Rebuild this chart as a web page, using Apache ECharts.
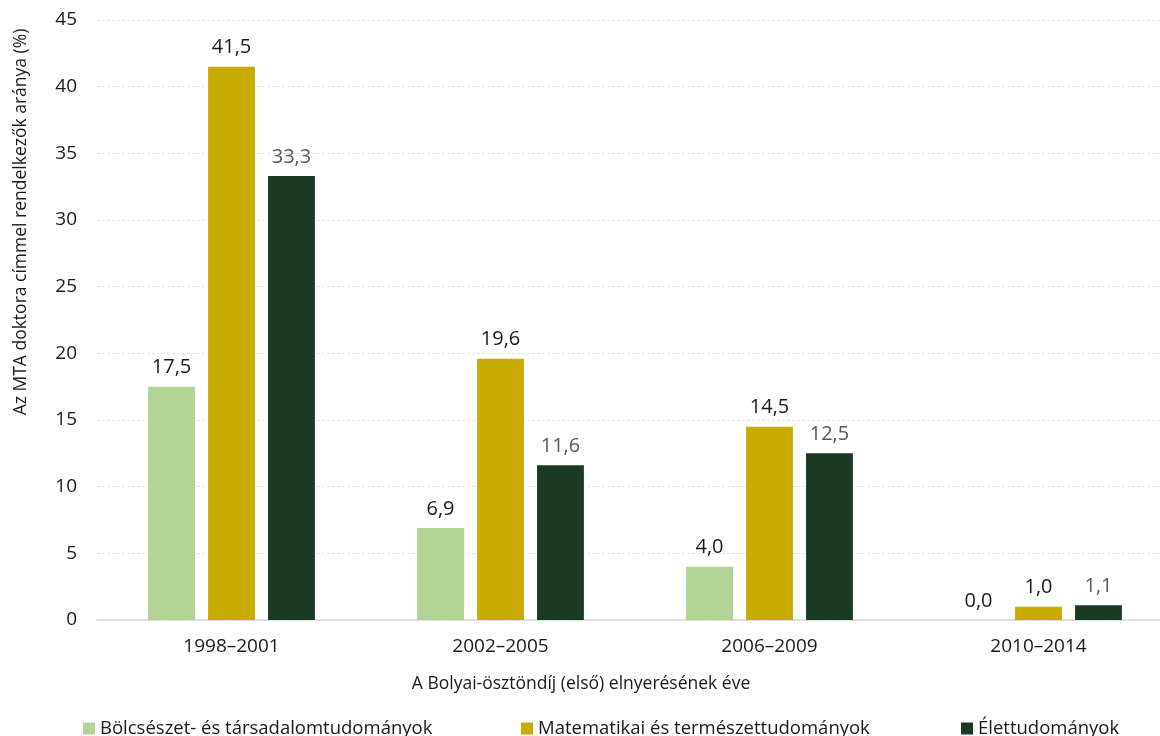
<!DOCTYPE html>
<html><head><meta charset="utf-8">
<script src="https://cdn.jsdelivr.net/npm/echarts@6/dist/echarts.min.js"></script>
<style>html,body{margin:0;padding:0;background:#fff}#c{width:1160px;height:736px}</style>
</head><body><div id="c"></div>
<script>
const categories = ['1998–2001', '2002–2005', '2006–2009', '2010–2014'];
const seriesNames = ['Bölcsészet- és társadalomtudományok', 'Matematikai és természettudományok', 'Élettudományok'];
const bolcseszet = [17.5, 6.9, 4.0, 0.0];
const matematikai = [41.5, 19.6, 14.5, 1.0];
const elet = [33.3, 11.6, 12.5, 1.1];
const yTicks = { min: 0, max: 45, interval: 5 };
const yTitle = 'Az MTA doktora címmel rendelkezők aránya (%)';
const xTitle = 'A Bolyai-ösztöndíj (első) elnyerésének éve';

const colors = ['#b3d395', '#c9aa00', '#1b3a23'];
const labelColors = ['#1a1a1a', '#1a1a1a', '#595959'];
const values = [bolcseszet, matematikai, elet];
const font = 'Open Sans';

const chart = echarts.init(document.getElementById('c'), null, { renderer: 'canvas' });
chart.setOption({
  animation: false,
  textStyle: { fontFamily: font },
  grid: { left: 97, width: 1076, top: 20, height: 600, outerBoundsMode: 'none', containLabel: false },
  legend: [0, 1, 2].map((i) => ({
    data: [seriesNames[i]],
    left: [78, 516, 956][i],
    top: 714,
    itemWidth: 12,
    itemHeight: 12,
    itemGap: 5,
    icon: 'rect',
    textStyle: { fontFamily: font, fontSize: 18.5, color: '#1a1a1a' }
  })),
  graphic: [{
    type: 'text',
    x: 21, y: 222,
    rotation: Math.PI / 2,
    style: {
      text: yTitle,
      fontFamily: font,
      fontSize: 17.5,
      fill: '#1a1a1a',
      align: 'center',
      verticalAlign: 'middle'
    }
  }, {
    type: 'text',
    x: 581, y: 684,
    style: {
      text: xTitle,
      fontFamily: font,
      fontSize: 17.5,
      fill: '#1a1a1a',
      align: 'center',
      verticalAlign: 'middle'
    }
  }],
  xAxis: {
    type: 'category',
    data: categories,
    axisLine: { lineStyle: { color: '#d9d9d9', width: 1.5 } },
    axisTick: { show: false },
    axisLabel: { fontSize: 19, color: '#1a1a1a', margin: 17 }
  },
  yAxis: {
    type: 'value',
    min: yTicks.min, max: yTicks.max, interval: yTicks.interval,
    axisLine: { show: false },
    axisTick: { show: false },
    axisLabel: { fontSize: 19, color: '#1a1a1a', margin: 20 },
    splitLine: { lineStyle: { color: '#e4e4e4', type: [3, 2], width: 1 } }
  },
  series: [0, 1, 2].map((i) => ({
    name: seriesNames[i],
    type: 'bar',
    data: values[i],
    barGap: '28%',
    barCategoryGap: '38%',
    itemStyle: { color: colors[i] },
    label: {
      show: true,
      position: 'top',
      distance: 9,
      fontSize: 20,
      color: labelColors[i],
      fontFamily: font,
      formatter: (p) => p.value.toFixed(1).replace('.', ',')
    }
  }))
});
</script></body></html>
